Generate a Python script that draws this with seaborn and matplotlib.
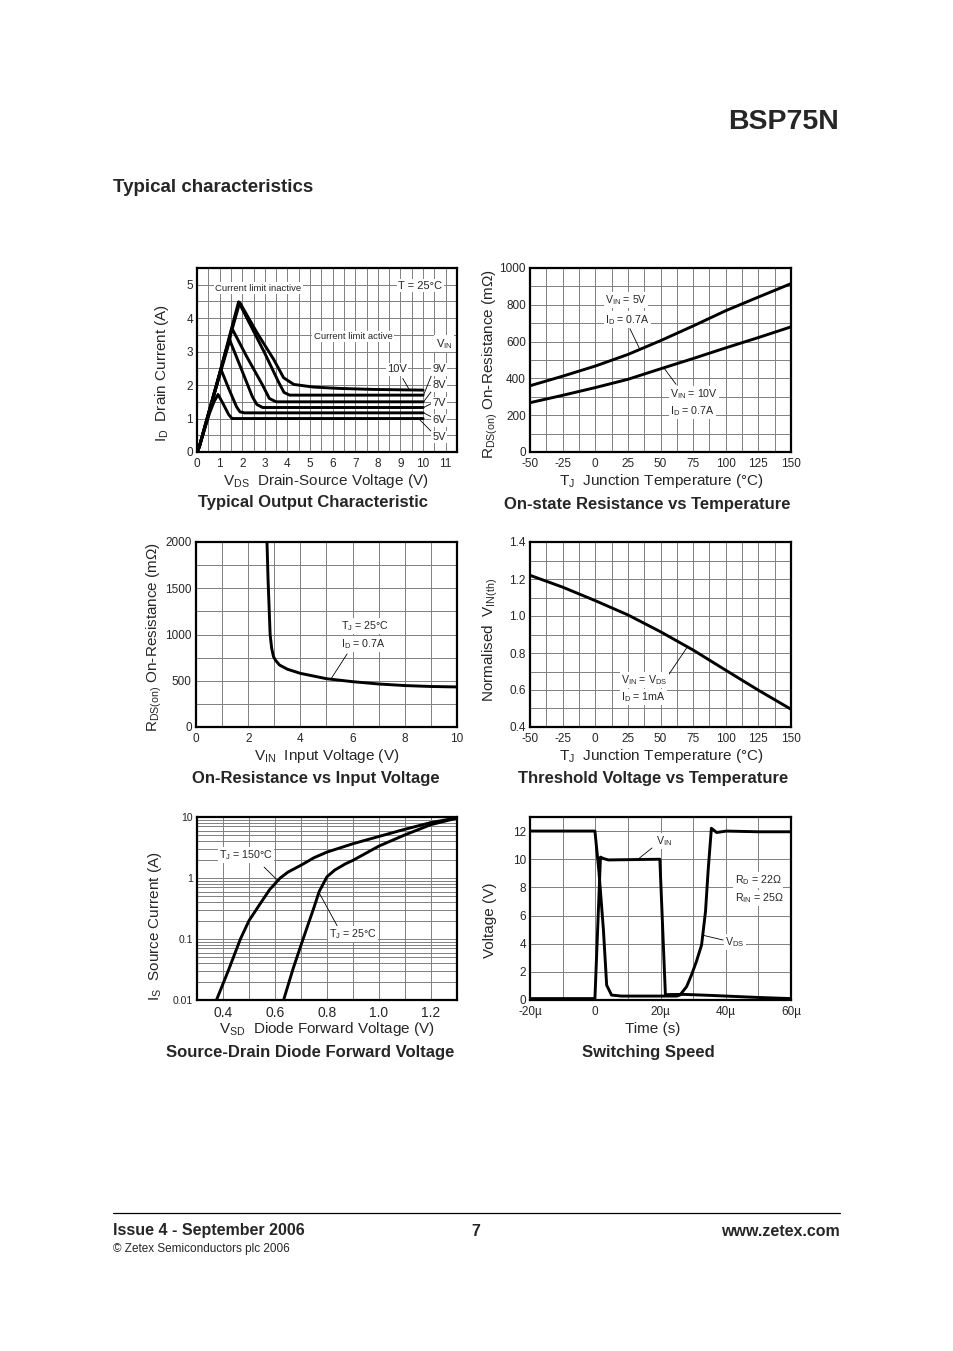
"""
BSP75N datasheet page 7: typical characteristics, six panels.
"""
import matplotlib
matplotlib.use('Agg')
import pandas as pd
import matplotlib.pyplot as plt
import seaborn as sns
from matplotlib.ticker import MultipleLocator, LogLocator, NullFormatter
from matplotlib.lines import Line2D

# ---- 1. Data ----
# Typical output characteristic (VDS in V, ID in A), one curve per VIN
vin_labels = ['5V', '6V', '7V', '8V', '9V', '10V']
out_vds = {
    '5V': [0, 0.1, 0.3, 0.55, 0.75, 0.93, 1.15, 1.4, 1.55, 10],
    '6V': [0, 0.1, 0.3, 0.7, 1.06, 1.4, 1.75, 1.9, 2.1, 10],
    '7V': [0, 0.1, 0.3, 0.8, 1.45, 1.95, 2.45, 2.65, 2.9, 10],
    '8V': [0, 0.1, 0.3, 0.9, 1.55, 2.2, 2.9, 3.2, 3.5, 10],
    '9V': [0, 0.1, 0.3, 1.0, 1.84, 3.0, 3.6, 3.85, 4.1, 10],
    '10V': [0, 0.1, 0.3, 1.0, 1.89, 2.65, 3.39, 3.83, 4.28, 5.16, 6.3, 7.8, 10],
}
out_id = {
    '5V': [0, 0.15, 0.6, 1.15, 1.5, 1.72, 1.45, 1.12, 1.0, 1.0],
    '6V': [0, 0.15, 0.62, 1.58, 2.47, 1.9, 1.35, 1.2, 1.17, 1.17],
    '7V': [0, 0.15, 0.63, 1.82, 3.34, 2.5, 1.65, 1.42, 1.33, 1.33],
    '8V': [0, 0.15, 0.64, 2.08, 3.69, 2.85, 2.0, 1.6, 1.5, 1.5],
    '9V': [0, 0.15, 0.65, 2.35, 4.49, 2.95, 2.1, 1.78, 1.7, 1.7],
    '10V': [0, 0.15, 0.65, 2.35, 4.47, 3.57, 2.77, 2.22, 2.02, 1.94, 1.9, 1.87, 1.85],
}

# On-state resistance vs temperature (mOhm)
tj = [-50, -25, 0, 25, 50, 75, 100, 125, 150]
rds_5v = [360, 412, 467, 530, 605, 685, 768, 842, 915]
rds_10v = [268, 308, 350, 395, 452, 508, 566, 622, 680]

# On-resistance vs input voltage
vin_sweep = [2.72, 2.76, 2.8, 2.84, 2.9, 2.97, 3.05, 3.2, 3.5, 4.0, 5.0, 6.0, 7.0, 8.0, 9.0, 10.0]
rds_vin = [2000, 1600, 1300, 1000, 850, 760, 720, 670, 625, 580, 522, 490, 465, 448, 438, 433]

# Threshold voltage vs temperature (normalised)
vth_norm = [1.22, 1.156, 1.083, 1.006, 0.915, 0.816, 0.707, 0.599, 0.496]

# Source-drain diode forward voltage
vsd_150 = [0.375, 0.42, 0.467, 0.5, 0.55, 0.58, 0.62, 0.65, 0.7, 0.75, 0.8, 0.9, 1.0, 1.1, 1.2, 1.3]
is_150 = [0.01, 0.03, 0.1, 0.2, 0.42, 0.65, 1.0, 1.25, 1.62, 2.15, 2.66, 3.65, 4.8, 6.3, 8.1, 9.7]
vsd_25 = [0.633, 0.67, 0.708, 0.75, 0.77, 0.8, 0.83, 0.87, 0.9, 1.0, 1.1, 1.2, 1.3]
is_25 = [0.01, 0.033, 0.1, 0.33, 0.6, 1.05, 1.35, 1.7, 1.95, 3.34, 5.1, 7.5, 9.6]

# Switching speed (time in microseconds)
t_vin = [-20, -0.1, 1.6, 2.5, 4, 19.8, 21.5, 27, 35, 50, 60]
v_vin = [0.1, 0.1, 10.15, 10.05, 9.95, 10.0, 0.38, 0.4, 0.33, 0.18, 0.1]
t_vds = [-20, -0.1, 1.1, 2.5, 3.5, 5, 8, 25, 26, 28, 29.5, 31, 32.6, 33.8, 34.6, 35.6, 37.2, 40.2, 50, 60]
v_vds = [12, 12, 9.2, 5.0, 1.05, 0.35, 0.28, 0.28, 0.36, 0.95, 1.78, 2.73, 3.92, 6.3, 9.2, 12.2, 11.9, 12.0, 11.95, 11.95]

# Tick labels
sw_xticks = [-20, 0, 20, 40, 60]
sw_xticklabels = ['-20µ', '0', '20µ', '40µ', '60µ']
vsd_xticks = [0.4, 0.6, 0.8, 1.0, 1.2]
vsd_xticklabels = ['0.4', '0.6', '0.8', '1.0', '1.2']
is_yticks = [0.01, 0.1, 1, 10]
is_yticklabels = ['0.01', '0.1', '1', '10']
vth_yticks = [0.4, 0.6, 0.8, 1.0, 1.2, 1.4]
vth_yticklabels = ['0.4', '0.6', '0.8', '1.0', '1.2', '1.4']

# ---- 2. Long-form tables for seaborn ----
out_df = pd.concat([pd.DataFrame({'vds': out_vds[k], 'id': out_id[k], 'vin': k}) for k in vin_labels])
rt_df = pd.concat([pd.DataFrame({'tj': tj, 'r': rds_5v, 'cond': '5V'}),
                   pd.DataFrame({'tj': tj, 'r': rds_10v, 'cond': '10V'})])
rv_df = pd.DataFrame({'vin': vin_sweep, 'r': rds_vin})
vth_df = pd.DataFrame({'tj': tj, 'v': vth_norm})
diode_df = pd.concat([pd.DataFrame({'vsd': vsd_150, 'is': is_150, 'tj': '150'}),
                      pd.DataFrame({'vsd': vsd_25, 'is': is_25, 'tj': '25'})])
sw_df = pd.concat([pd.DataFrame({'t': t_vin, 'v': v_vin, 'sig': 'VIN'}),
                   pd.DataFrame({'t': t_vds, 'v': v_vds, 'sig': 'VDS'})])

# ---- 3. Page setup ----
sns.set_style('white')
plt.rcParams['font.family'] = ['Liberation Sans', 'DejaVu Sans']
plt.rcParams['mathtext.fontset'] = 'custom'
plt.rcParams['mathtext.rm'] = 'Liberation Sans'
plt.rcParams['mathtext.it'] = 'Liberation Sans:italic'
plt.rcParams['mathtext.bf'] = 'Liberation Sans:bold'
plt.rcParams['axes.unicode_minus'] = False

W, H = 954, 1351
fig = plt.figure(figsize=(W / 100, H / 100), dpi=100)
fig.patch.set_facecolor('white')


def add_ax(l, t, r, b):
    return fig.add_axes([l / W, 1 - b / H, (r - l) / W, (b - t) / H])


def ftext(px, py, s, **kw):
    fig.text(px / W, 1 - py / H, s, **kw)


def frame(ax, xminor, yminor, xfs=8.5, yfs=8.5):
    for sp in ax.spines.values():
        sp.set_linewidth(1.6)
        sp.set_color('black')
    if xminor:
        ax.xaxis.set_minor_locator(MultipleLocator(xminor))
    if yminor:
        ax.yaxis.set_minor_locator(MultipleLocator(yminor))
    ax.grid(which='both', color='#808080', lw=0.7)
    ax.set_axisbelow(True)
    ax.tick_params(which='both', length=0)
    ax.tick_params(axis='x', labelsize=xfs, pad=4)
    ax.tick_params(axis='y', labelsize=yfs, pad=3)
    ax.set_xlabel('')
    ax.set_ylabel('')


def note(ax, x, y, s, fs=7.7, ha='left'):
    ax.text(x, y, s, fontsize=fs, ha=ha, va='center', zorder=4,
            bbox=dict(fc='white', ec='none', pad=1.0))


def leader(ax, p0, p1):
    ax.annotate('', xy=p1, xytext=p0,
                arrowprops=dict(arrowstyle='-', color='black', lw=0.6, shrinkA=0, shrinkB=0),
                zorder=3)


line_kw = dict(estimator=None, sort=False, color='black', lw=2.1, legend=False)

# ---- 4. Typical output characteristic ----
ax1 = add_ax(197, 268, 457, 452)
sns.lineplot(data=out_df, x='vds', y='id', units='vin', ax=ax1, **line_kw)
ax1.set_xlim(0, 11.5)
ax1.set_ylim(0, 5.5)
ax1.set_xticks(range(0, 12))
ax1.set_yticks(range(0, 6))
frame(ax1, 0.5, 0.5)
note(ax1, 0.8, 4.9, 'Current limit inactive', fs=6.8)
note(ax1, 8.9, 4.97, 'T = 25°C', fs=8)
note(ax1, 5.17, 3.45, 'Current limit active', fs=6.8)
note(ax1, 10.55, 3.24, r'$\mathregular{V_{IN}}$', fs=8)
note(ax1, 8.4, 2.47, '10V', fs=8)
for lab, ly in zip(['9V', '8V', '7V', '6V', '5V'], [2.47, 1.99, 1.46, 0.95, 0.45]):
    note(ax1, 10.4, ly, lab, fs=8)
leader(ax1, (9.1, 2.2), (9.4, 1.85))
leader(ax1, (10.4, 2.34), (10.02, 1.7))
leader(ax1, (10.4, 1.84), (10.02, 1.5))
leader(ax1, (10.4, 1.46), (10.02, 1.33))
leader(ax1, (10.4, 1.04), (10.02, 1.17))
leader(ax1, (10.4, 0.59), (9.8, 1.0))

# ---- 5. On-state resistance vs temperature ----
ax2 = add_ax(530, 268, 791, 452)
sns.lineplot(data=rt_df, x='tj', y='r', units='cond', ax=ax2, **line_kw)
ax2.set_xlim(-50, 150)
ax2.set_ylim(0, 1000)
ax2.set_xticks(range(-50, 151, 25))
ax2.set_yticks(range(0, 1001, 200))
frame(ax2, 12.5, 100)
note(ax2, 7.5, 827, r'$\mathregular{V_{IN}}$ = 5V')
note(ax2, 7.5, 719, r'$\mathregular{I_D}$ = 0.7A')
note(ax2, 57.3, 314, r'$\mathregular{V_{IN}}$ = 10V')
note(ax2, 57.3, 222, r'$\mathregular{I_D}$ = 0.7A')
leader(ax2, (26.6, 670), (34.3, 556))
leader(ax2, (61.9, 368), (52.7, 456))

# ---- 6. On-resistance vs input voltage ----
ax3 = add_ax(196, 542, 457, 727)
sns.lineplot(data=rv_df, x='vin', y='r', ax=ax3, **line_kw)
ax3.set_xlim(0, 10)
ax3.set_ylim(0, 2000)
ax3.set_xticks(range(0, 11, 2))
ax3.set_yticks(range(0, 2001, 500))
frame(ax3, 1, 250)
note(ax3, 5.56, 1092, r'$\mathregular{T_J}$ = 25°C')
note(ax3, 5.56, 897, r'$\mathregular{I_D}$ = 0.7A')
leader(ax3, (5.79, 790), (5.17, 519))

# ---- 7. Threshold voltage vs temperature ----
ax4 = add_ax(530, 542, 791, 727)
sns.lineplot(data=vth_df, x='tj', y='v', ax=ax4, **line_kw)
ax4.set_xlim(-50, 150)
ax4.set_ylim(0.4, 1.4)
ax4.set_xticks(range(-50, 151, 25))
ax4.set_yticks(vth_yticks, vth_yticklabels)
frame(ax4, 12.5, 0.1)
note(ax4, 19.7, 0.654, r'$\mathregular{V_{IN}}$ = $\mathregular{V_{DS}}$')
note(ax4, 19.7, 0.562, r'$\mathregular{I_D}$ = 1mA')
leader(ax4, (55, 0.67), (70.3, 0.83))

# ---- 8. Source-drain diode forward voltage ----
ax5 = add_ax(197, 817, 457, 1000)
ax5.set_yscale('log')
sns.lineplot(data=diode_df, x='vsd', y='is', units='tj', ax=ax5, **line_kw)
ax5.set_xlim(0.3, 1.3)
ax5.set_ylim(0.01, 10)
ax5.set_xticks(vsd_xticks, vsd_xticklabels)
ax5.set_yticks(is_yticks, is_yticklabels)
ax5.yaxis.set_minor_locator(LogLocator(base=10, subs=range(2, 10)))
ax5.yaxis.set_minor_formatter(NullFormatter())
frame(ax5, 0.1, None, xfs=10, yfs=7.5)
note(ax5, 0.385, 2.38, r'$\mathregular{T_J}$ = 150°C')
note(ax5, 0.808, 0.121, r'$\mathregular{T_J}$ = 25°C')
leader(ax5, (0.558, 1.51), (0.606, 0.95))
leader(ax5, (0.85, 0.135), (0.772, 0.55))

# ---- 9. Switching speed ----
ax6 = add_ax(530, 817, 791, 1000)
sns.lineplot(data=sw_df, x='t', y='v', units='sig', ax=ax6, **line_kw)
ax6.set_xlim(-20, 60)
ax6.set_ylim(0, 13)
ax6.set_xticks(sw_xticks, sw_xticklabels)
ax6.set_yticks(range(0, 13, 2))
frame(ax6, 10, 2)
note(ax6, 18.6, 11.3, r'$\mathregular{V_{IN}}$')
note(ax6, 42.8, 8.52, r'$\mathregular{R_D}$ = 22Ω')
note(ax6, 42.8, 7.25, r'$\mathregular{R_{IN}}$ = 25Ω')
note(ax6, 39.8, 4.12, r'$\mathregular{V_{DS}}$')
leader(ax6, (17.4, 10.8), (13.1, 10.0))
leader(ax6, (39.2, 4.26), (33.0, 4.6))

# ---- 10. Axis labels and panel titles as page text ----
lab = dict(fontsize=11, ha='center', va='center')
ftext(326, 481, r'$\mathregular{V_{DS}}$  Drain-Source Voltage (V)', **lab)
ftext(661, 481, r'$\mathregular{T_J}$  Junction Temperature (°C)', **lab)
ftext(327, 756, r'$\mathregular{V_{IN}}$  Input Voltage (V)', **lab)
ftext(661, 756, r'$\mathregular{T_J}$  Junction Temperature (°C)', **lab)
ftext(327, 1029, r'$\mathregular{V_{SD}}$  Diode Forward Voltage (V)', **lab)
ftext(653, 1029, 'Time (s)', **lab)

ftext(162, 373, r'$\mathregular{I_D}$  Drain Current (A)', rotation=90, **lab)
ftext(490, 364, r'$\mathregular{R_{DS(on)}}$ On-Resistance (mΩ)', rotation=90, **lab)
ftext(154, 637, r'$\mathregular{R_{DS(on)}}$ On-Resistance (mΩ)', rotation=90, **lab)
ftext(490, 640, r'Normalised  $\mathregular{V_{IN(th)}}$', rotation=90, **lab)
ftext(155, 926, r'$\mathregular{I_S}$  Source Current (A)', rotation=90, **lab)
ftext(490, 920, 'Voltage (V)', rotation=90, **lab)

ttl = dict(fontsize=12, fontweight='bold', ha='center', va='center')
ftext(313, 503, 'Typical Output Characteristic', **ttl)
ftext(647, 505, 'On-state Resistance vs Temperature', **ttl)
ftext(316, 778, 'On-Resistance vs Input Voltage', **ttl)
ftext(653, 778, 'Threshold Voltage vs Temperature', **ttl)
ftext(310, 1052, 'Source-Drain Diode Forward Voltage', **ttl)
ftext(648, 1052, 'Switching Speed', **ttl)

# ---- 11. Header and footer ----
ftext(839, 122, 'BSP75N', fontsize=20.5, fontweight='bold', ha='right', va='center')
ftext(113, 188, 'Typical characteristics', fontsize=13.5, fontweight='bold', ha='left', va='center')
fig.add_artist(Line2D([113 / W, 840 / W], [1 - 1213 / H, 1 - 1213 / H],
                      transform=fig.transFigure, color='black', lw=0.9))
ftext(113, 1231, 'Issue 4 - September 2006', fontsize=11.5, fontweight='bold', ha='left', va='center')
ftext(476, 1231, '7', fontsize=11.5, fontweight='bold', ha='center', va='center')
ftext(840, 1231, 'www.zetex.com', fontsize=11.5, fontweight='bold', ha='right', va='center')
ftext(113, 1249, '© Zetex Semiconductors plc 2006', fontsize=8.5, ha='left', va='center')

fig.savefig('out.png', dpi=100)
